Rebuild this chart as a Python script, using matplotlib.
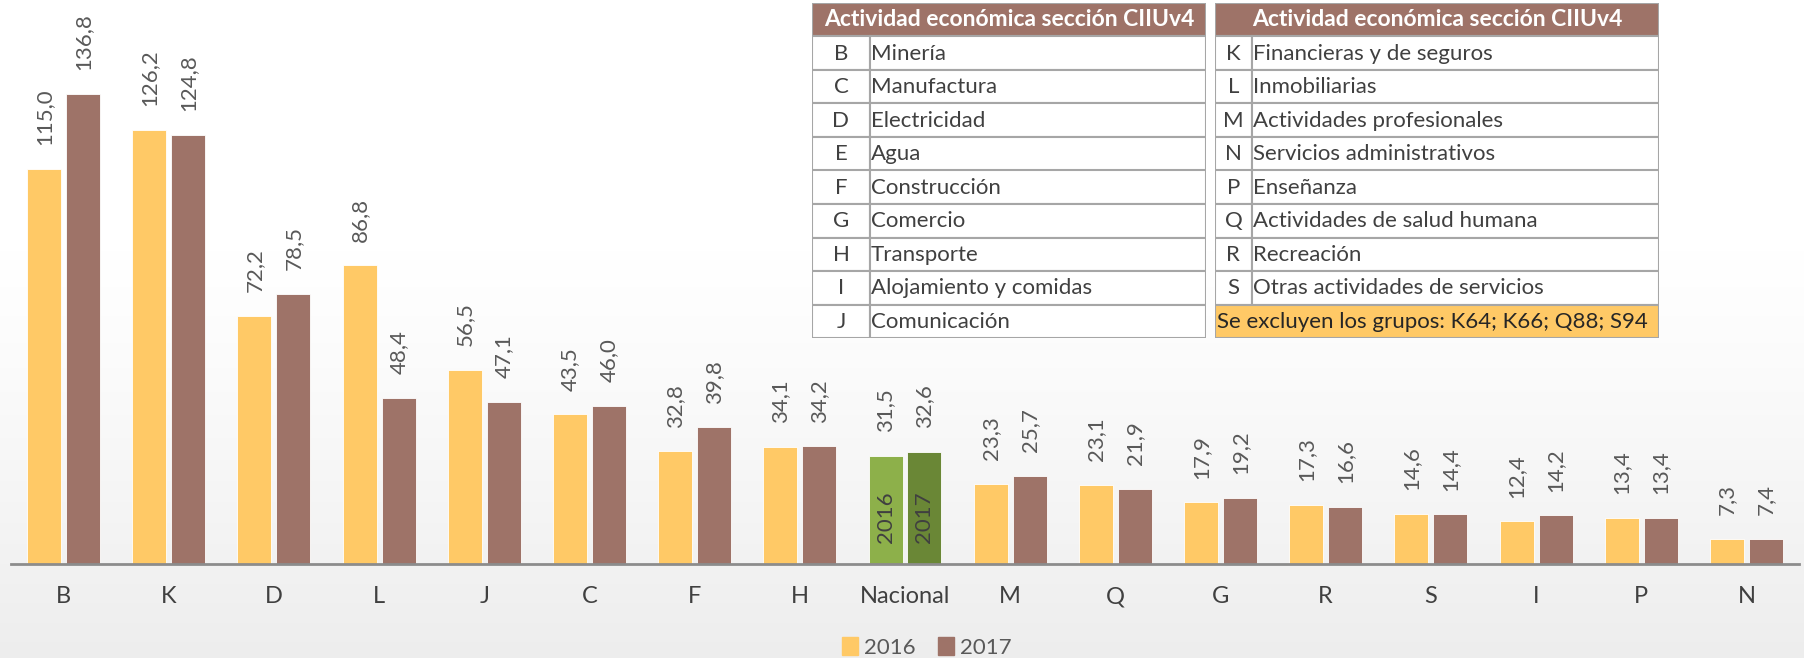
import numpy as np
import matplotlib.pyplot as plt
from matplotlib.patches import Rectangle, Patch

plt.rcParams['font.family'] = ['Lato', 'DejaVu Sans']

# datos
categorias = ['B', 'K', 'D', 'L', 'J', 'C', 'F', 'H', 'Nacional', 'M', 'Q', 'G', 'R', 'S', 'I', 'P', 'N']
v2016 = [115.0, 126.2, 72.2, 86.8, 56.5, 43.5, 32.8, 34.1, 31.5, 23.3, 23.1, 17.9, 17.3, 14.6, 12.4, 13.4, 7.3]
v2017 = [136.8, 124.8, 78.5, 48.4, 47.1, 46.0, 39.8, 34.2, 32.6, 25.7, 21.9, 19.2, 16.6, 14.4, 14.2, 13.4, 7.4]

tabla_izq_cod = ['B', 'C', 'D', 'E', 'F', 'G', 'H', 'I', 'J']
tabla_izq_nom = ['Minería', 'Manufactura', 'Electricidad', 'Agua', 'Construcción', 'Comercio',
                 'Transporte', 'Alojamiento y comidas', 'Comunicación']
tabla_der_cod = ['K', 'L', 'M', 'N', 'P', 'Q', 'R', 'S']
tabla_der_nom = ['Financieras y de seguros', 'Inmobiliarias', 'Actividades profesionales',
                 'Servicios administrativos', 'Enseñanza', 'Actividades de salud humana',
                 'Recreación', 'Otras actividades de servicios']
titulo_tabla = 'Actividad económica sección CIIUv4'
nota = 'Se excluyen los grupos: K64; K66; Q88; S94'

AMARILLO = '#FFC966'
CAFE = '#9E7368'
VERDE1 = '#8DB04A'
VERDE2 = '#6A8736'
GRIS_TXT = '#595959'

W, H = 1804, 658
fig = plt.figure(figsize=(W / 100, H / 100), dpi=100)

# fondo degradado
bg = fig.add_axes([0, 0, 1, 1], zorder=-10)
yy = np.arange(H)
t = np.clip((yy - 250) / (H - 250), 0, 1)
grad = (1 - 0.07 * t ** 1.2)[:, None]
bg.imshow(np.dstack([grad, grad, grad]), aspect='auto', extent=[0, 1, 0, 1])
bg.axis('off')

# grafico principal
ax = fig.add_axes([11 / W, (H - 564) / H, 1788 / W, 564 / H])
ax.set_facecolor('none')
x = np.arange(len(categorias))
ancho = 0.323
off = 0.185
c16 = [VERDE1 if c == 'Nacional' else AMARILLO for c in categorias]
c17 = [VERDE2 if c == 'Nacional' else CAFE for c in categorias]
ax.bar(x - off, v2016, ancho, color=c16, edgecolor='white', linewidth=0.6)
ax.bar(x + off, v2017, ancho, color=c17, edgecolor='white', linewidth=0.6)

for xs, vals in [(x - off, v2016), (x + off, v2017)]:
    for xi, v in zip(xs, vals):
        ax.annotate(f'{v:.1f}'.replace('.', ','), (xi, v), xytext=(0, 17),
                    textcoords='offset points', rotation=90, ha='center', va='bottom',
                    fontsize=16, color=GRIS_TXT)

i_nac = categorias.index('Nacional')
ax.text(i_nac - off, 13.5, '2016', rotation=90, ha='center', va='center', fontsize=16, color='#404040')
ax.text(i_nac + off, 13.5, '2017', rotation=90, ha='center', va='center', fontsize=16, color='#404040')

ax.set_xlim(-0.5, len(categorias) - 0.5)
ax.set_ylim(0, 164)
ax.set_xticks(x)
ax.set_xticklabels(categorias, fontsize=17, color='#404040')
ax.tick_params(axis='x', length=0, pad=16)
ax.set_yticks([])
for s in ['top', 'right', 'left']:
    ax.spines[s].set_visible(False)
ax.spines['bottom'].set_color('#8C8C8C')
ax.spines['bottom'].set_linewidth(2)

fig.legend(handles=[Patch(color=AMARILLO, label='2016'), Patch(color=CAFE, label='2017')],
           loc='lower center', bbox_to_anchor=(927 / W, -0.03), ncol=2, frameon=False,
           fontsize=16, handlelength=0.7, handleheight=0.9, handletextpad=0.3,
           columnspacing=1.0, labelcolor=GRIS_TXT)


def dibujar_tabla(x0, x1, div, codigos, nombres, nota_txt=None):
    tax = fig.add_axes([x0 / W, (H - 338) / H, (x1 - x0) / W, 335 / H])
    tax.set_xlim(0, 1)
    tax.set_ylim(10, 0)
    tax.axis('off')
    borde = '#A6A6A6'
    tax.add_patch(Rectangle((0, 0), 1, 1, facecolor=CAFE, edgecolor=borde, lw=1.5))
    tax.text(0.5, 0.5, titulo_tabla, ha='center', va='center', color='white',
             fontsize=16.5, fontweight='bold')
    for i, (c, n) in enumerate(zip(codigos, nombres)):
        y = i + 1
        tax.add_patch(Rectangle((0, y), div, 1, facecolor='white', edgecolor=borde, lw=1.5))
        tax.add_patch(Rectangle((div, y), 1 - div, 1, facecolor='white', edgecolor=borde, lw=1.5))
        tax.text(div / 2, y + 0.52, c, ha='center', va='center', fontsize=16, color='#404040')
        tax.text(div + 0.003, y + 0.52, n, ha='left', va='center', fontsize=16, color='#404040')
    if nota_txt:
        y = len(codigos) + 1
        tax.add_patch(Rectangle((0, y), 1, 1, facecolor=AMARILLO, edgecolor=borde, lw=1.5))
        tax.text(0.005, y + 0.52, nota_txt, ha='left', va='center', fontsize=16, color='#262626')


dibujar_tabla(812, 1206, 0.147, tabla_izq_cod, tabla_izq_nom)
dibujar_tabla(1215, 1659, 0.083, tabla_der_cod, tabla_der_nom, nota)

fig.savefig('out.png', dpi=100)
